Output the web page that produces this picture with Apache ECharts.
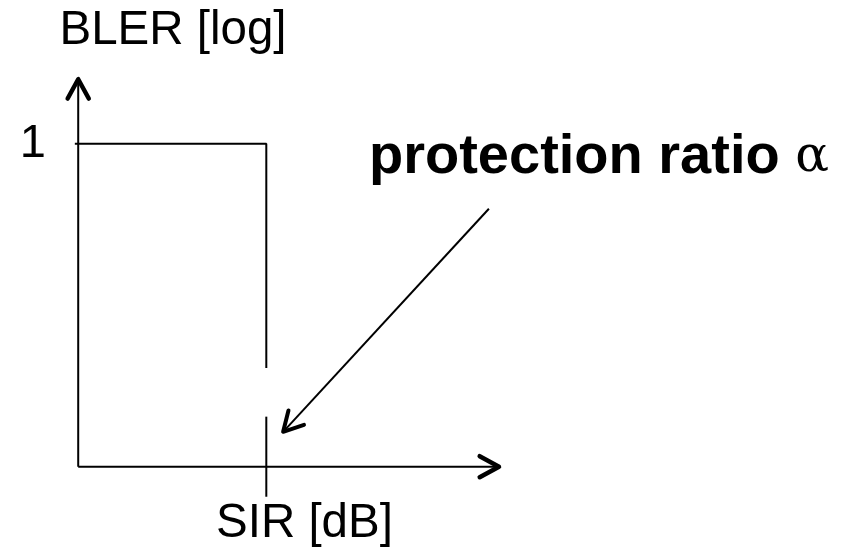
<!DOCTYPE html>
<html>
<head>
<meta charset="utf-8">
<script src="https://cdn.jsdelivr.net/npm/echarts@6/dist/echarts.min.js"></script>
<style>html,body{margin:0;padding:0;background:#fff}#c{width:852px;height:549px}</style>
</head>
<body>
<div id="c"></div>
<script>
// ---- data (schematic units: SIR on x, BLER on y) ----
const alphaSIR = 4.47;                 // protection ratio position on SIR axis
const bler1 = 1;                       // BLER level before the threshold
const stepCurve = [[-0.08, 1], [4.47, 1], [4.47, 0.306]];   // BLER curve (upper part)
const alphaMarker = [[4.47, 0.155], [4.47, -0.093]];        // marker at alpha on SIR axis
const axisArrows = [[0, 0, 10, 0], [0, 0, 0, 1.2]];         // [x1,y1,x2,y2]
const annotationArrow = [[9.76, 0.799, 4.87, 0.108]];
const yTickLabels = [1];
const yAxisTitle = 'BLER [log]';
const xAxisTitle = 'SIR [dB]';
const annotationText = 'protection ratio ';
const alphaSymbol = 'α';

const chart = echarts.init(document.getElementById('c'), null, {renderer: 'canvas'});

function arrowRenderer(shaftW, headW) {
  return function (params, api) {
    const a = api.coord([api.value(0), api.value(1)]);
    const b = api.coord([api.value(2), api.value(3)]);
    const ang = Math.atan2(b[1] - a[1], b[0] - a[0]);
    const L = 22, s = 0.5;
    const w1 = [b[0] - L * Math.cos(ang - s), b[1] - L * Math.sin(ang - s)];
    const w2 = [b[0] - L * Math.cos(ang + s), b[1] - L * Math.sin(ang + s)];
    return {
      type: 'group',
      children: [
        {type: 'line', shape: {x1: a[0], y1: a[1], x2: b[0], y2: b[1]},
         style: {stroke: '#000', lineWidth: shaftW}},
        {type: 'polyline', shape: {points: [w1, b, w2]},
         style: {stroke: '#000', fill: null, lineWidth: headW, lineCap: 'round', lineJoin: 'round'}}
      ]
    };
  };
}

chart.setOption({
  animation: false,
  backgroundColor: '#fff',
  grid: {left: 74, right: 353, top: 76, bottom: 50},
  xAxis: {
    type: 'value', min: -0.1, max: 10,
    axisLine: {show: false}, axisTick: {show: false},
    axisLabel: {show: false}, splitLine: {show: false}
  },
  yAxis: {
    type: 'value', min: -0.1, max: 1.21,
    axisLine: {show: false, onZero: false}, axisTick: {show: false},
    splitLine: {show: false},
    axisLabel: {
      customValues: yTickLabels,
      color: '#000', fontSize: 47, fontFamily: 'Liberation Sans',
      margin: 28, padding: [0, 0, 12, 0]
    }
  },
  graphic: [
    {type: 'text', style: {text: yAxisTitle, x: 59.5, y: 30.5, verticalAlign: 'middle',
      font: '47.5px "Liberation Sans"', fill: '#000'}},
    {type: 'text', style: {text: xAxisTitle, x: 216, y: 523.5, verticalAlign: 'middle',
      font: '47.5px "Liberation Sans"', fill: '#000'}},
    {type: 'text', style: {
      text: '{b|' + annotationText + '}{a|' + alphaSymbol + '}', x: 369, y: 158, verticalAlign: 'middle',
      rich: {
        b: {fontFamily: 'Liberation Sans', fontWeight: 'bold', fontSize: 56, fill: '#000', color: '#000'},
        a: {fontFamily: 'DejaVu Serif', fontSize: 50, fill: '#000', color: '#000'}
      }}}
  ],
  series: [
    {type: 'line', data: stepCurve, symbol: 'none', silent: true,
     lineStyle: {color: '#000', width: 2}},
    {type: 'line', data: alphaMarker, symbol: 'none', silent: true,
     lineStyle: {color: '#000', width: 2}},
    {type: 'custom', data: axisArrows, renderItem: arrowRenderer(2, 4.5), silent: true},
    {type: 'custom', data: annotationArrow, renderItem: arrowRenderer(2, 4), silent: true}
  ]
});
</script>
</body>
</html>
